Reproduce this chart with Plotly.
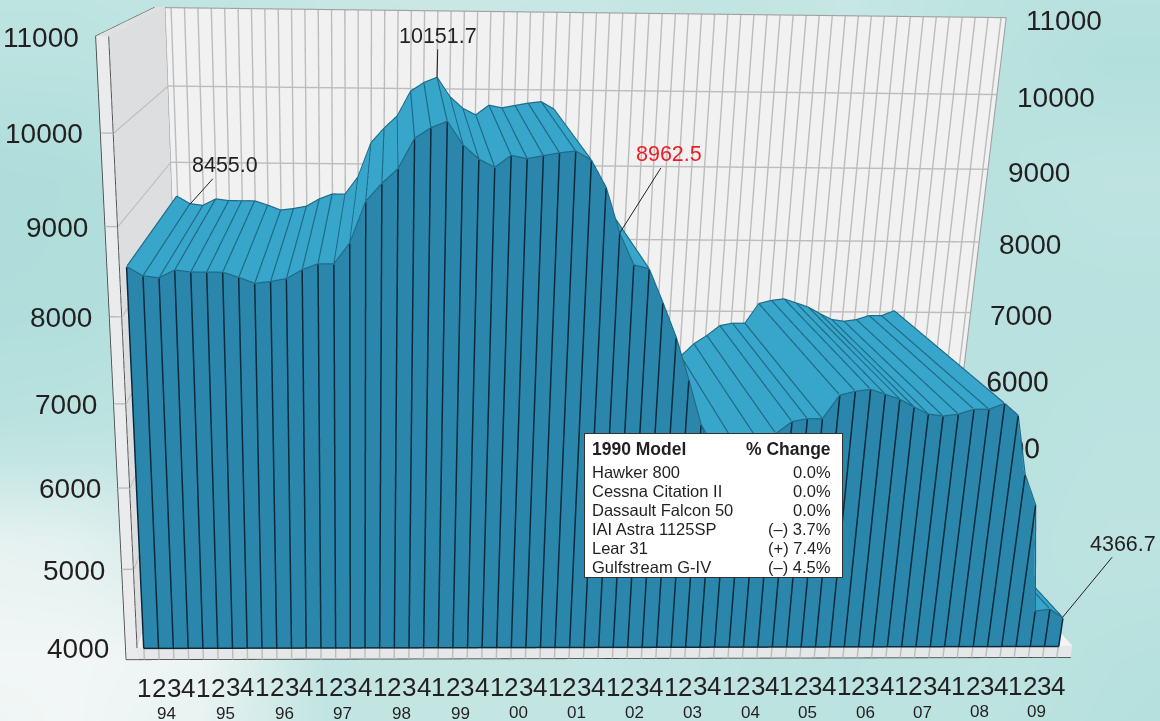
import numpy as np
import plotly.graph_objects as go

quarters = ["1", "2", "3", "4"]
years = ["94","95","96","97","98","99","00","01","02","03","04","05","06","07","08","09"]
values = [8556,8455,8433,8522,8500,8500,8500,8444,8378,8400,8433,8533,8600,8600,8833,9290,
          9484,9645,9968,10082,10151.7,9903,9753,9667,9796,9763,9796,9828,9849,9753,9462,8962.5,
          8611,8567,8189,7793,7299,6774,6333,6214,6369,6548,6667,6810,6845,6845,7126,7172,
          7195,7138,7080,6988,6905,6881,6905,6964,6964,7034,6893,6179,5802,4456,4481,4366.7]
axis_ticks = [4000,5000,6000,7000,8000,9000,10000,11000]
table_rows = [("Hawker 800","0.0%"),("Cessna Citation II","0.0%"),("Dassault Falcon 50","0.0%"),
              ("IAI Astra 1125SP","(–) 3.7%"),("Lear 31","(+) 7.4%"),("Gulfstream G-IV","(–) 4.5%")]
callouts = [(1,"back","8455.0","#231f20",35,-39),(20,"back","10151.7","#231f20",1,-42),
            (31,"front","8962.5","#ed1c24",50,-79),(63,"front","4366.7","#231f20",61,-74)]

# background wash (lightness of the mottled backdrop, top to bottom)
bg_x = [-60,70,200,330,460,590,720,850,980,1110,1240]
bg_y = [-60,60,180,300,420,540,660,780]
bg_z = [[.45,.45,.50,.55,.60,.55,.45,.55,.40,.35,.35],
        [.35,.35,.40,.50,.50,.50,.45,.50,.35,.20,.20],
        [.10,.15,.30,.40,.40,.40,.40,.40,.30,.40,.40],
        [.15,.15,.30,.40,.40,.40,.40,.40,.30,.30,.30],
        [.30,.35,.40,.40,.40,.40,.40,.40,.30,.35,.35],
        [.85,.80,.60,.50,.40,.40,.40,.40,.30,.40,.40],
        [.95,.95,.90,.45,.50,.45,.40,.35,.40,.30,.25],
        [.85,.95,.80,.45,.50,.45,.40,.35,.35,.25,.20]]

# projection constants: scene geometry
QW, HW = 0.01087, 0.00006406          # world size of one quarter, one value unit
RIB, WALL = 0.22, 0.225               # depth of the ribbon and of the back wall
XR, YR, ZR = [-1.5, 70.0], [-0.005, 0.235], [3800.0, 11050.0]
world_size = np.array([(XR[1]-XR[0])*QW, YR[1]-YR[0], (ZR[1]-ZR[0])*HW])
mid = np.array([(XR[0]+XR[1])/2*QW, (YR[0]+YR[1])/2, ((ZR[0]+ZR[1])/2-4000)*HW])
s = 1/world_size[0]
eye_w = np.array([.1806,-.8972,.543])
look = np.array([.03,.9665,-.2546])
eye = (eye_w-mid)*s
center = (eye_w+look-mid)*s
up = (-.0067,.2549,.9669)

n = len(values)
q = np.arange(n, dtype=float)
v = np.array(values, dtype=float)

def strip(xa, ya, za, xb, yb, zb, color, name):
    xs = np.r_[xa, xb]; ys = np.r_[ya, yb]; zs = np.r_[za, zb]
    m = len(xa)
    a = np.arange(m-1)
    return go.Mesh3d(x=xs, y=ys, z=zs,
                     i=np.r_[a, a+1], j=np.r_[a+1, a+m+1], k=np.r_[a+m, a+m],
                     color=color, flatshading=True, name=name, hoverinfo="skip",
                     lighting=dict(ambient=1, diffuse=0, specular=0, roughness=1, fresnel=0))

def quad(x0, x1, y0, y1, z0, z1, color, name):
    """flat rectangle between two opposite corners"""
    if y0 == y1:
        return strip(np.array([x0,x1]),np.array([y0,y0]),np.array([z0,z0]),
                     np.array([x0,x1]),np.array([y0,y0]),np.array([z1,z1]),color,name)
    return strip(np.array([x0,x1]),np.array([y0,y0]),np.array([z0,z1]),
                 np.array([x0,x1]),np.array([y1,y1]),np.array([z0,z1]),color,name)

def segs(pairs, color, width, name):
    xs, ys, zs = [], [], []
    for a, b in pairs:
        xs += [a[0], b[0], None]; ys += [a[1], b[1], None]; zs += [a[2], b[2], None]
    return go.Scatter3d(x=xs, y=ys, z=zs, mode="lines", line=dict(color=color, width=width),
                        name=name, hoverinfo="skip", showlegend=False)

wx0, wx1 = -0.46, 63.4      # inner wall extent in quarters
bx0 = -1.24                 # outer edge of the wall slab
zb = 3850.0                 # underside of floor slab
zt = 11000.0
zf = 4000.0

fig = go.Figure()
fig.add_trace(go.Heatmap(x=bg_x, y=bg_y, z=bg_z, zsmooth="best", showscale=False, hoverinfo="skip",
                         zmin=0, zmax=1, colorscale=[[0,"#a6dad8"],[.5,"#c4e6e3"],[1,"#f7f8f8"]]))

# walls and floor
fig.add_trace(quad(wx0, wx1, WALL, WALL, zf, zt, "#f1f1f1", "back wall"))
fig.add_trace(strip(np.array([wx0,wx0]),np.array([0,WALL]),np.array([zf,zf]),
                    np.array([wx0,wx0]),np.array([0,WALL]),np.array([zt,zt]),"#dddee0","side wall"))
fig.add_trace(quad(wx0, 64.0, 0, WALL, zf, zf, "#f4f4f4", "floor"))
fig.add_trace(quad(bx0, wx0, 0, 0, zb, zt, "#eaebec", "slab"))
fig.add_trace(quad(wx0, 64.0, 0, 0, zb, zf, "#e6e7e8", "floor front"))
fig.add_trace(quad(bx0, wx0, 0, WALL+.004, zt, zt, "#dfe0e1", "slab top"))

grid = []
for t in axis_ticks[1:-1]:
    grid.append(((wx0,WALL-.0005,t),(wx1,WALL-.0005,t)))
    grid.append(((wx0+.02,0,t),(wx0+.02,WALL-.0005,t)))
    grid.append(((bx0,-.0005,t),(wx0,-.0005,t)))
for i in range(n):
    grid.append(((i,WALL-.0005,zf),(i,WALL-.0005,zt)))
    grid.append(((i,-.0005,zb),(i,-.0005,zf)))
fig.add_trace(segs(grid,"#bcbcbc",2.8,"grid"))
fig.add_trace(segs([((wx0,WALL-.0005,zt),(wx1,WALL-.0005,zt)),((wx1,WALL-.0005,zf),(wx1,WALL-.0005,zt)),
                    ((wx0,WALL-.0005,zf),(wx0,WALL-.0005,zt))],"#a0a0a0",2.2,"wall edge"))
fig.add_trace(segs([((bx0,-.0005,zt),(bx0,-.0005,zb)),((wx0,-.0005,zt),(wx0,-.0005,zf)),
                    ((bx0,-.0005,zb),(64,-.0005,zb)),((bx0,-.0005,zt),(bx0,WALL,zt))],"#4a4a4a",1.8,"slab edge"))

# the area: front face and top ribbon
fig.add_trace(strip(q,np.zeros(n),v,q,np.zeros(n),np.full(n,zf),"#2a86aa","front"))
fig.add_trace(strip(q,np.zeros(n),v,q,np.full(n,RIB),v,"#38a5cb","ribbon"))
e = 8.0
fig.add_trace(segs([((q[i],.001,v[i]+e),(q[i],RIB,v[i]+e)) for i in range(n)],"#1d6a87",2.4,"ribbon dividers"))
fig.add_trace(segs([((q[i],RIB,v[i]+e),(q[i+1],RIB,v[i+1]+e)) for i in range(n-1)]+
                   [((q[i],-.001,v[i]+e),(q[i+1],-.001,v[i+1]+e)) for i in range(n-1)],"#1d6a87",2.4,"ribbon edges"))
fig.add_trace(segs([((q[i],-.001,zf),(q[i],-.001,v[i])) for i in range(n)]+
                   [((q[0],-.001,zf),(q[-1],-.001,zf))],"#0b2a3d",3,"front dividers"))

# right-hand labels that sit behind the mountain
fig.add_trace(go.Scatter3d(x=[wx1+4.6]*2, y=[WALL]*2, z=[5000,6000], mode="text", text=["5000","6000"],
                           textposition="middle center",
                           textfont=dict(family="Liberation Sans", size=28, color="#231f20"),
                           hoverinfo="skip", showlegend=False))

ann = []
FONT = "Liberation Sans"
INK = "#231f20"
for t in axis_ticks:
    ann.append(dict(x=bx0,y=0,z=t,text=str(t),showarrow=False,xanchor="right",xshift=-15,yshift=-1,
                    font=dict(family=FONT,size=28,color=INK)))
for t in axis_ticks[3:]:
    ann.append(dict(x=wx1,y=WALL,z=t,text=str(t),showarrow=False,xanchor="left",xshift=18,yshift=-3,
                    font=dict(family=FONT,size=28,color=INK)))
for i in range(n):
    ann.append(dict(x=i,y=0,z=zf,text=quarters[i%4],showarrow=False,yshift=-40,
                    font=dict(family=FONT,size=26,color=INK)))
for i,y in enumerate(years):
    ann.append(dict(x=4*i+1.5,y=0,z=zf,text=y,showarrow=False,yshift=-66,
                    font=dict(family=FONT,size=17,color=INK)))
for idx,where,txt,col,ax,ay in callouts:
    ann.append(dict(x=idx,y=RIB if where=="back" else 0,z=values[idx],text=txt,showarrow=True,arrowhead=0,
                    arrowwidth=1,arrowcolor="#231f20",ax=ax,ay=ay,
                    font=dict(family=FONT,size=21.5,color=col)))

# table box, in the page frame of the 2D axes
tab = []
tab.append(dict(x=584,y=433,xref="x",yref="y",xanchor="left",yanchor="top",showarrow=False,text=" ",
                width=257,height=143,bgcolor="#ffffff",bordercolor="#333333",borderwidth=1,borderpad=0))
tab.append(dict(x=590,y=449,xref="x",yref="y",xanchor="left",showarrow=False,text="<b>1990 Model</b>",
                font=dict(family=FONT,size=17.5,color=INK)))
tab.append(dict(x=833,y=449,xref="x",yref="y",xanchor="right",showarrow=False,text="<b>% Change</b>",
                font=dict(family=FONT,size=17.5,color=INK)))
for i,(a,b) in enumerate(table_rows):
    y = 472+19*i
    tab.append(dict(x=590,y=y,xref="x",yref="y",xanchor="left",showarrow=False,text=a,
                    font=dict(family=FONT,size=16.5,color=INK)))
    tab.append(dict(x=833,y=y,xref="x",yref="y",xanchor="right",showarrow=False,text=b,
                    font=dict(family=FONT,size=16.5,color=INK)))

hidden = dict(visible=False,showbackground=False,showgrid=False,zeroline=False,showspikes=False)
W, H, LEFT, TOP = 1460, 1122, -298, -313
fig.update_layout(
    width=W, height=H, margin=dict(l=0,r=0,t=0,b=0), showlegend=False,
    paper_bgcolor="#c4e6e3", plot_bgcolor="#c4e6e3",
    xaxis=dict(range=[LEFT,LEFT+W],visible=False,domain=[0,1],fixedrange=True),
    yaxis=dict(range=[TOP+H,TOP],visible=False,domain=[0,1],fixedrange=True),
    annotations=tab,
    scene=dict(domain=dict(x=[0,1],y=[0,1]),bgcolor="rgba(0,0,0,0)",
               xaxis=dict(range=XR,**hidden),yaxis=dict(range=YR,**hidden),zaxis=dict(range=ZR,**hidden),
               aspectmode="manual",
               aspectratio=dict(x=float(world_size[0]*s),y=float(world_size[1]*s),z=float(world_size[2]*s)),
               camera=dict(eye=dict(x=float(eye[0]),y=float(eye[1]),z=float(eye[2])),
                           center=dict(x=float(center[0]),y=float(center[1]),z=float(center[2])),
                           up=dict(x=up[0],y=up[1],z=up[2]),
                           projection=dict(type="perspective")),
               annotations=ann))

post = ("var gd=document.getElementById('{plot_id}');"
        "document.documentElement.style.overflow='hidden';document.body.style.overflow='hidden';"
        "gd.style.position='absolute';gd.style.left='%dpx';gd.style.top='%dpx';" % (LEFT,TOP))
fig.write_html("out.html", post_script=post, config=dict(displayModeBar=False))
